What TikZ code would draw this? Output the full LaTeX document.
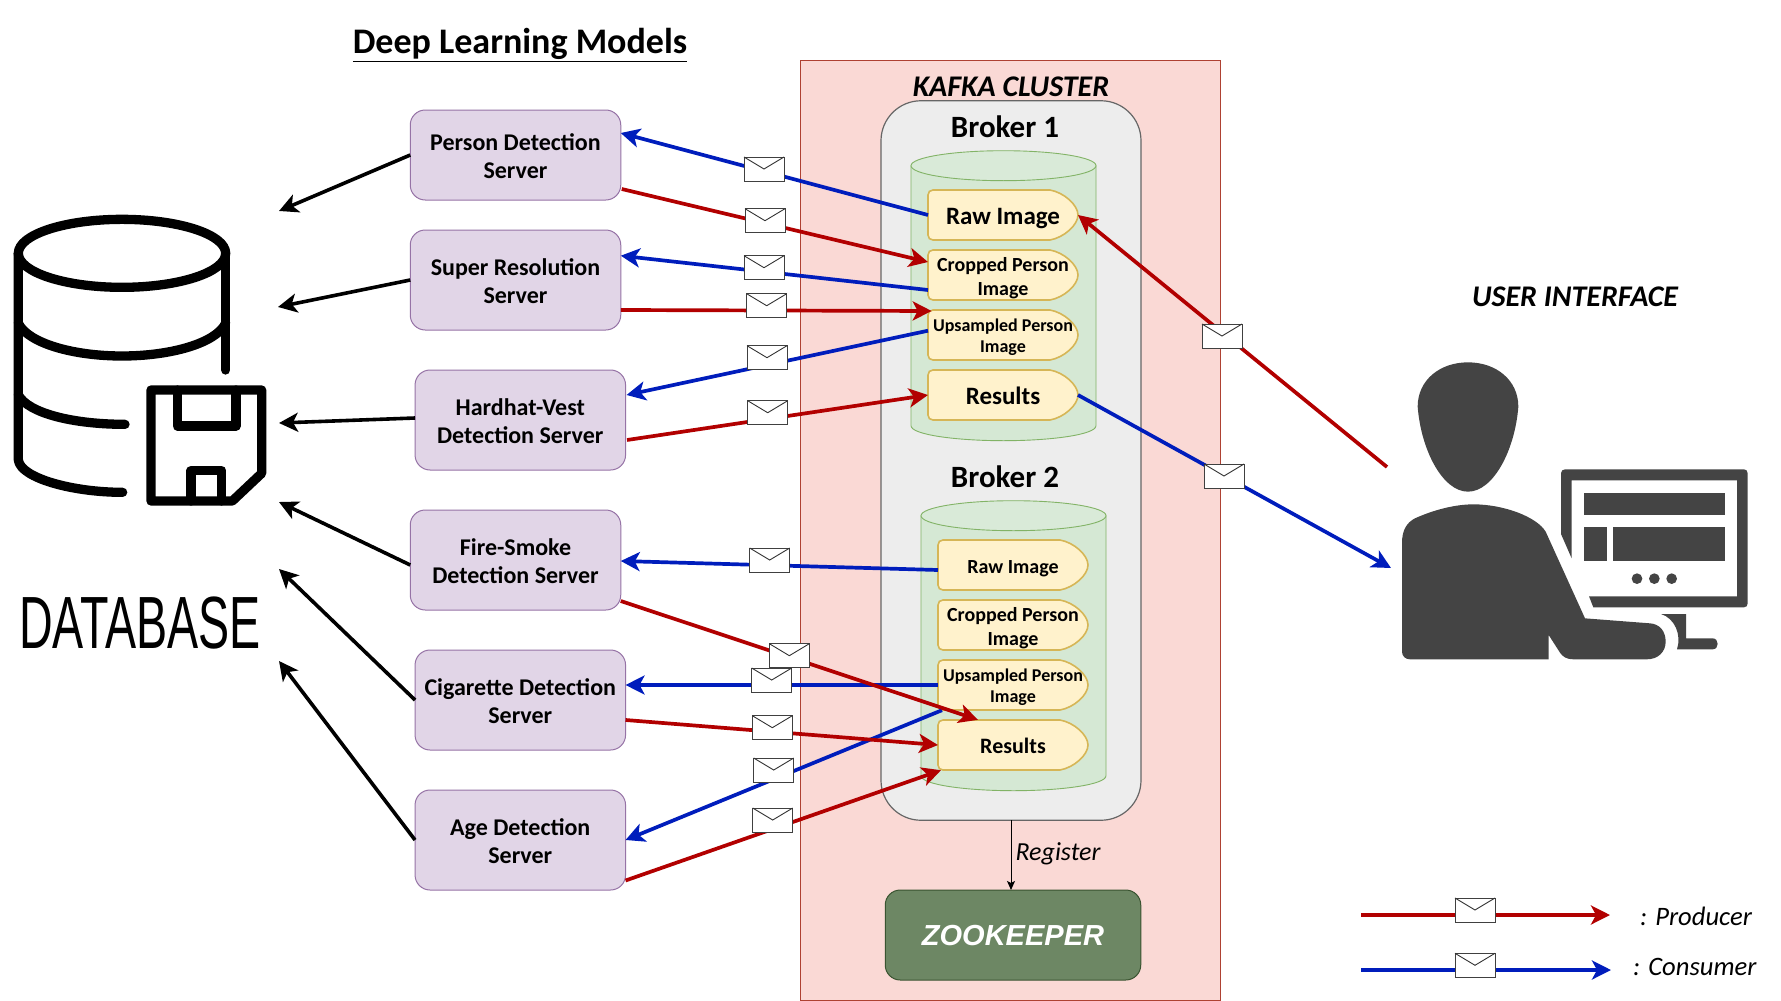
\documentclass[tikz,border=0pt]{standalone}
\usepackage{fontspec}
\setmainfont{Carlito}
\newfontfamily\arialfont{Liberation Sans}
\newfontfamily\dbfont[FakeStretch=0.63]{Liberation Sans}
\usetikzlibrary{arrows.meta,calc}
\definecolor{kred}{HTML}{B20000}
\definecolor{kblue}{HTML}{001DBC}
\definecolor{icon}{HTML}{444444}
\definecolor{srv}{HTML}{E1D5E7}
\definecolor{srvline}{HTML}{9673A6}
\definecolor{tfill}{HTML}{FFF2CC}
\definecolor{tline}{HTML}{D6B656}
\definecolor{cfill}{HTML}{D5E8D4}
\definecolor{cline}{HTML}{82B366}
\definecolor{kfill}{HTML}{FAD9D5}
\definecolor{kline}{HTML}{AE4132}
\definecolor{zfill}{HTML}{6D8764}
\definecolor{zline}{HTML}{3A5431}
\tikzset{
  x=1pt,y=-1pt,
  serverbox/.style={draw=srvline,fill=srv,rounded corners=15pt,line width=1pt,minimum width=210.5pt,minimum height=100pt,inner sep=0pt,outer sep=0pt},
  servertext/.style={align=center,yshift=-1pt,inner sep=0pt,font=\fontsize{24}{28.5}\selectfont\bfseries},
  topicshape/.style={draw=tline,fill=tfill,line width=1.6pt},
  topiclabel/.style={minimum width=150pt,minimum height=50.4pt,inner sep=0pt,outer sep=0pt},
  cyl/.style={draw=cline,fill=cfill,line width=.9pt},
  redline/.style={draw=kred,line width=3.7pt,-{Stealth[length=19pt,width=19pt,inset=5pt]}},
  blueline/.style={draw=kblue,line width=3.7pt,-{Stealth[length=19pt,width=19pt,inset=5pt]}},
  blackline/.style={draw=black,line width=3.6pt,-{Stealth[length=19pt,width=19pt,inset=5pt]}},
  envbox/.style={draw=black!75,fill=white,line width=.9pt,minimum width=40pt,minimum height=24pt,inner sep=0pt,outer sep=0pt},
  dbstroke/.style={draw=black,line width=9.3pt,line cap=round,line join=round},
}
\newcommand{\topicbox}[6]{%
  \draw[topicshape,shift={(#2-75,#3-25)}] (5,0) -- (122,0) .. controls (136,2.5) and (150,15) .. (150,25) .. controls (150,35) and (136,47.5) .. (122,50) -- (5,50) .. controls (2,50) and (0,48) .. (0,45) -- (0,5) .. controls (0,2) and (2,0) .. (5,0) -- cycle;
  \node[topiclabel,label={[font=#4\bfseries,align=center,inner sep=0pt,yshift=-#6pt]center:#5}] (#1) at (#2,#3) {};}
\newcommand{\envel}[3]{%
  \node[envbox] (#1) at (#2,#3) {};
  \draw[black!80,line width=.9pt] (#1.north west) -- ++(20,12) -- (#1.north east);}
\newcommand{\cylshape}[4]{% x1 x2 top bottom
  \draw[cyl] (#1,#3+15) -- (#1,#4-15) .. controls (#1,#4-6) and (#1+45,#4) .. ({(#1+#2)/2},#4) .. controls (#2-45,#4) and (#2,#4-6) .. (#2,#4-15) -- (#2,#3+15) -- cycle;
  \draw[cyl,fill=cfill!90!white] ({(#1+#2)/2},#3+15) ellipse [x radius={(#2-#1)/2},y radius=15];}
\begin{document}
\begin{tikzpicture}
\useasboundingbox (0,0) rectangle (1781,1001);
\fill[white] (0,0) rectangle (1781,1001);
% title
\node[font=\fontsize{36}{38}\selectfont\bfseries] (title) at (520,45) {\underline{Deep Learning Models}};
% kafka
\draw[draw=kline,fill=kfill,line width=1pt] (800.5,60.5) rectangle (1220,1000.5);
\node[font=\fontsize{30}{32}\selectfont\bfseries\itshape] (kafka) at (1011,87) {KAFKA CLUSTER};
\node[draw=black!60,fill=black!7,line width=1.2pt,rounded corners=40pt,minimum width=260pt,minimum height=719.5pt,inner sep=0pt,outer sep=0pt] (broker) at (1011,460.5) {};
\node[font=\fontsize{31}{33}\selectfont\bfseries] (b1) at (1005,127) {Broker 1};
\node[font=\fontsize{31}{33}\selectfont\bfseries] (b2) at (1005,477) {Broker 2};
\cylshape{911}{1096}{150.7}{440.7}
\cylshape{921}{1106}{500.7}{790.7}
\topicbox{raw1}{1003}{215}{\fontsize{25}{28}\selectfont}{Raw Image}{3.4}
\topicbox{crop1}{1003}{275}{\fontsize{20}{24}\selectfont}{Cropped Person\\Image}{3.4}
\topicbox{up1}{1003}{335}{\fontsize{18}{21}\selectfont}{Upsampled Person\\Image}{2.3}
\topicbox{res1}{1003}{395}{\fontsize{25}{28}\selectfont}{Results}{1.2}
\topicbox{raw2}{1013}{565}{\fontsize{20}{24}\selectfont}{Raw Image}{3.4}
\topicbox{crop2}{1013}{625}{\fontsize{20}{24}\selectfont}{Cropped Person\\Image}{3.4}
\topicbox{up2}{1013}{685}{\fontsize{18}{21}\selectfont}{Upsampled Person\\Image}{2.3}
\topicbox{res2}{1013}{745}{\fontsize{22}{24}\selectfont}{Results}{1.2}
% zookeeper
\node[draw=zline,fill=zfill,line width=1pt,rounded corners=15pt,minimum width=255.5pt,minimum height=90pt,inner sep=0pt,outer sep=0pt,label={[text=white,inner sep=0pt,yshift=-1pt,font=\arialfont\fontsize{29}{32}\selectfont\bfseries\itshape]center:ZOOKEEPER}] (zoo) at (1013,935) {};
\draw[black,line width=1pt,-{Stealth[length=9pt,width=8pt,inset=2pt]}] (broker.south) -- ([xshift=-2pt]zoo.north);
\node[anchor=west,font=\fontsize{26}{28}\selectfont\itshape] (reg) at (1012,854) {Register};
% servers
\node[serverbox,minimum height=90pt,label={[servertext]center:Person Detection\\Server}] (person) at (515.5,155) {};
\node[serverbox,label={[servertext]center:Super Resolution\\Server}] (super) at (515.5,280) {};
\node[serverbox,label={[servertext]center:Hardhat-Vest\\Detection Server}] (hard) at (520.3,420) {};
\node[serverbox,label={[servertext]center:Fire-Smoke\\Detection Server}] (fire) at (515.5,560) {};
\node[serverbox,label={[servertext]center:Cigarette Detection\\Server}] (cig) at (520.3,700) {};
\node[serverbox,label={[servertext]center:Age Detection\\Server}] (age) at (520.3,840) {};
% database free ends
\coordinate (d1) at (279,211);
\coordinate (d2) at (278,307);
\coordinate (d3) at (279,423);
\coordinate (d4) at (279,502);
\coordinate (d5) at (279,569);
\coordinate (d6) at (279,661);
\draw[blackline] (person.west) -- (d1);
\draw[blackline] (super.west) -- (d2);
\draw[blackline] ([yshift=2pt]hard.west) -- (d3);
\draw[blackline] ([yshift=-5pt]fire.west) -- (d4);
\draw[blackline] (cig.west) -- (d5);
\draw[blackline] (age.west) -- (d6);
% connectors
\coordinate (uiA) at (1387,467);
\coordinate (uiB) at (1391,568);
\draw[blueline] (raw1.west) -- ([yshift=22pt]person.east);
\draw[blueline] ([yshift=-15pt]crop1.west) -- ([yshift=24.3pt]super.east);
\draw[blueline] ([yshift=4.3pt]up1.west) -- ([yshift=25pt,xshift=1pt]hard.east);
\draw[blueline] (res1.east) -- (uiB);
\draw[blueline] ([yshift=-5pt]raw2.west) -- ([yshift=-1pt]fire.east);
\draw[blueline] (up2.west) -- ([yshift=15pt]cig.east);
\draw[blueline] ([xshift=-71pt]up2.south) -- (age.east);
\draw[redline] ([yshift=-34pt,xshift=1pt]person.east) -- ([yshift=13pt]crop1.west);
\draw[redline] ([yshift=-30pt]super.east) -- ([yshift=24pt,xshift=3.7pt]up1.west);
\draw[redline] ([yshift=-20pt,xshift=1.5pt]hard.east) -- (res1.west);
\draw[redline] (uiA) -- (raw1.east);
\draw[redline] ([yshift=-41pt]fire.east) -- ([xshift=-35pt]res2.north);
\draw[redline] ([yshift=-20pt]cig.east) -- (res2.west);
\draw[redline] ([yshift=-40.5pt]age.east) -- ([xshift=-72pt]res2.south);
% envelopes
\envel{e1}{764}{169}
\envel{e2}{765}{220.7}
\envel{e3}{764}{267.7}
\envel{e4}{766.7}{305.7}
\envel{e5}{767}{357.7}
\envel{e6}{767.7}{412.7}
\envel{e7}{1222}{336}
\envel{e8}{1224}{476}
\envel{e9}{769.7}{560}
\envel{e10}{771.7}{680}
\envel{e11}{789.3}{655.7}
\envel{e12}{772.3}{727.7}
\envel{e13}{773.7}{770}
\envel{e14}{772.7}{820}
% database icon
\begin{scope}[shift={(0,180)},x=.33333pt,y=-.33333pt]
  \draw[dbstroke] (366,220) ellipse [x radius=311,y radius=102];
  \draw[dbstroke] (55,220) -- (55,840) .. controls (62,895) and (220,937) .. (368,937);
  \draw[dbstroke] (677,220) -- (677,570);
  \draw[dbstroke] (55,430) .. controls (85,490) and (220,528) .. (366,528) .. controls (512,528) and (647,490) .. (677,430);
  \draw[dbstroke] (55,645) .. controls (85,700) and (220,733) .. (375,733);
  \draw[dbstroke] (453,630) -- (785,630) -- (785,880) -- (697,963) -- (453,963) -- cycle;
  \draw[dbstroke] (532,630) -- (532,738) -- (708,738) -- (708,630);
  \draw[dbstroke] (573,963) -- (573,872) -- (665,872) -- (665,963);
\end{scope}
\node[inner sep=0pt,font=\dbfont\fontsize{74}{76}\selectfont] (dbtext) at (140,623) {DATABASE};
% user icon
\begin{scope}[shift={(1380,340)},x=.33333pt,y=-.33333pt]
  \fill[icon] (113,200) .. controls (113,120) and (180,67) .. (264,67) .. controls (348,67) and (415,120) .. (415,200) .. controls (405,330) and (340,455) .. (264,455) .. controls (188,455) and (123,330) .. (113,200) -- cycle;
  \fill[icon] (66,610) .. controls (66,570) and (80,548) .. (105,535) .. controls (160,510) and (225,493) .. (280,493) .. controls (370,493) and (470,530) .. (497,575) -- (615,835) -- (810,850) .. controls (840,852) and (857,875) .. (857,905) .. controls (857,935) and (835,958) .. (800,958) -- (580,958) .. controls (560,958) and (548,950) .. (540,938) -- (506,885) -- (506,958) -- (90,958) .. controls (76,958) and (66,948) .. (66,935) -- cycle;
  \fill[icon] (555,388) -- (1092,388) .. controls (1099,388) and (1103,393) .. (1103,400) -- (1103,790) .. controls (1103,797) and (1099,802) .. (1092,802) -- (640,802) -- (627,769) -- (1071,769) -- (1071,421) -- (575,421) -- (575,655) -- (543,582) -- (543,400) .. controls (543,393) and (548,388) .. (555,388) -- cycle;
  \fill[icon] (612,458) rectangle (1035,525);
  \fill[icon] (612,562) rectangle (680,664);
  \fill[icon] (698,562) rectangle (1035,664);
  \fill[icon] (771,716) circle [radius=16];
  \fill[icon] (823,716) circle [radius=16];
  \fill[icon] (875,716) circle [radius=16];
  \fill[icon] (843,822) -- (918,822) -- (918,895) -- (998,895) .. controls (1018,895) and (1018,928) .. (998,928) -- (891,928) .. controls (905,885) and (885,835) .. (843,822) -- cycle;
\end{scope}
\node[font=\fontsize{30}{32}\selectfont\bfseries\itshape] (ui) at (1575,297) {USER INTERFACE};
% legend
\coordinate (l1a) at (1361,915);
\coordinate (l1b) at (1610,915);
\coordinate (l2a) at (1361,970);
\coordinate (l2b) at (1611,970);
\draw[redline] (l1a) -- (l1b);
\draw[blueline] (l2a) -- (l2b);
\envel{e15}{1475}{910}
\envel{e16}{1475}{965.3}
\node[anchor=west,inner sep=0pt,font=\fontsize{26.6}{29}\selectfont\itshape] (lp) at (1640,916) {: Producer};
\node[anchor=west,inner sep=0pt,font=\fontsize{26.6}{29}\selectfont\itshape] (lc) at (1633,967) {: Consumer};
\end{tikzpicture}
\end{document}
